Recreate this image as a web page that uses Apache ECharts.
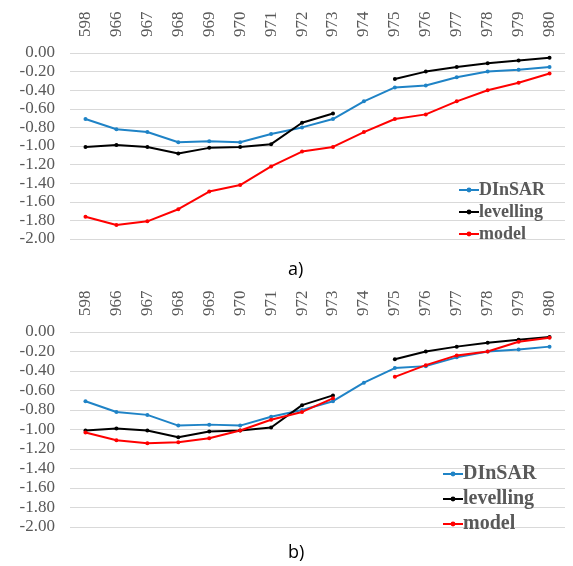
<!DOCTYPE html>
<html>
<head>
    <meta charset="utf-8">
    <script src="https://cdn.jsdelivr.net/npm/echarts@6/dist/echarts.min.js"></script>
</head>
<body style="margin:0;background:#fff">
    <div id="main" style="width:573px;height:566px;"></div>
    <script type="text/javascript">
        var myChart = echarts.init(document.getElementById('main'));

        // benchmark names along the top axis
        var stations = ['598', '966', '967', '968', '969', '970', '971', '972',
                        '973', '974', '975', '976', '977', '978', '979', '980'];

        // subsidence values (m)
        var dinsar = [-0.71, -0.82, -0.85, -0.96, -0.95, -0.96, -0.87, -0.80,
                      -0.71, -0.52, -0.37, -0.35, -0.26, -0.20, -0.18, -0.15];
        var levelling = [-1.01, -0.99, -1.01, -1.08, -1.02, -1.01, -0.98, -0.75,
                         -0.65, null, -0.28, -0.20, -0.15, -0.11, -0.08, -0.05];
        var modelA = [-1.76, -1.85, -1.81, -1.68, -1.49, -1.42, -1.22, -1.06,
                      -1.01, -0.85, -0.71, -0.66, -0.52, -0.40, -0.32, -0.22];
        var modelB = [-1.03, -1.11, -1.14, -1.13, -1.09, -1.01, -0.90, -0.82,
                      -0.68, null, -0.46, -0.34, -0.24, -0.20, -0.10, -0.06];

        var serif = '"Liberation Serif", "DejaVu Serif", serif';
        var grey = '#595959';

        function xAxis(idx) {
            return {
                type: 'category',
                gridIndex: idx,
                position: 'top',
                data: stations,
                axisLine: { show: false },
                axisTick: { show: false },
                axisLabel: {
                    rotate: 90,
                    margin: 16,
                    color: grey,
                    fontFamily: serif,
                    fontSize: 17
                }
            };
        }

        function yAxis(idx) {
            return {
                type: 'value',
                gridIndex: idx,
                min: -2,
                max: 0,
                interval: 0.2,
                axisLine: { show: false },
                axisTick: { show: false },
                splitLine: { lineStyle: { color: '#d9d9d9', width: 1 } },
                axisLabel: {
                    margin: 15,
                    color: grey,
                    fontFamily: serif,
                    fontSize: 17,
                    formatter: function (v) { return v.toFixed(2); }
                }
            };
        }

        function line(name, color, data, idx) {
            return {
                name: name,
                type: 'line',
                xAxisIndex: idx,
                yAxisIndex: idx,
                data: data,
                symbol: 'circle',
                symbolSize: 4,
                connectNulls: false,
                lineStyle: { color: color, width: 2 },
                itemStyle: { color: color }
            };
        }

        function legend(left, top, size, gap) {
            return {
                data: ['DInSAR', 'levelling', 'model'],
                orient: 'vertical',
                left: left,
                top: top,
                itemGap: gap,
                itemWidth: 20,
                itemHeight: 6,
                textStyle: {
                    color: grey,
                    fontFamily: serif,
                    fontSize: size,
                    fontWeight: 'bold',
                    padding: [0, 0, 0, -5]
                }
            };
        }

        var titleStyle = { fontFamily: '"Open Sans", sans-serif', fontSize: 18, fontWeight: 'normal', color: '#000' };

        var option = {
            backgroundColor: '#fff',
            animation: false,
            title: [
                { text: 'a)', left: 283, top: 256, textStyle: titleStyle },
                { text: 'b)', left: 283, top: 539, textStyle: titleStyle }
            ],
            legend: [legend(453, 176, 18, 4), legend(437, 459, 20, 5)],
            grid: [
                { left: 70, right: 8, top: 53, height: 186 },
                { left: 70, right: 8, top: 332, height: 195 }
            ],
            xAxis: [xAxis(0), xAxis(1)],
            yAxis: [yAxis(0), yAxis(1)],
            series: [
                line('DInSAR', '#1f83c6', dinsar, 0),
                line('levelling', '#000000', levelling, 0),
                line('model', '#ff0000', modelA, 0),
                line('DInSAR', '#1f83c6', dinsar, 1),
                line('levelling', '#000000', levelling, 1),
                line('model', '#ff0000', modelB, 1)
            ]
        };

        myChart.setOption(option);
    </script>
</body>
</html>
